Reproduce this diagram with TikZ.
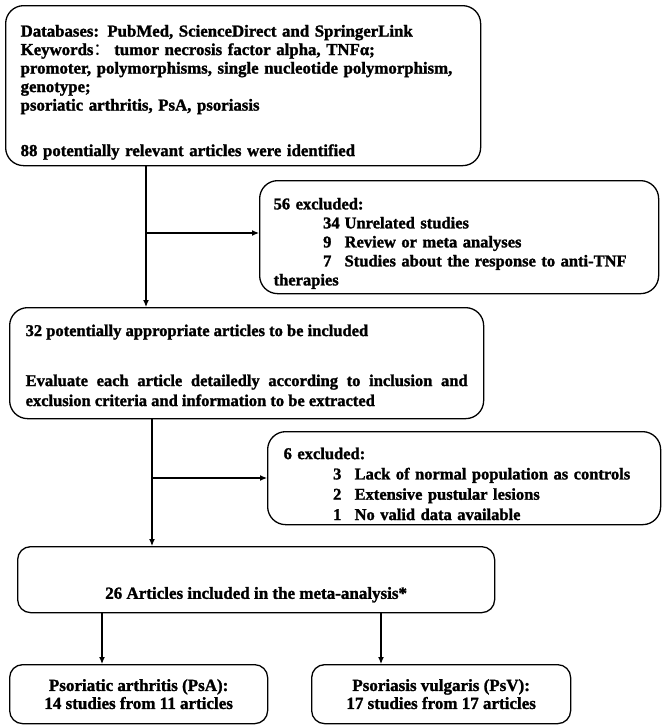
\documentclass[tikz,border=0pt]{standalone}
\usepackage{fontspec}
\setmainfont{Liberation Serif}[BoldFeatures={FakeBold=1.5}]
\newfontfamily\cjk{Noto Sans CJK SC}
\usetikzlibrary{arrows.meta}

% hanging number of an exclusion reason
\newcommand{\exitem}[2]{\hspace*{3em}\makebox[1.3em][l]{#1}#2}

\tikzset{
  box/.style={draw,line width=1.3pt,rounded corners=18pt,anchor=north west,
              inner xsep=15pt,inner ysep=0pt,font=\bfseries},
  smallbox/.style={box,rounded corners=13pt,align=center,
              font=\bfseries\fontsize{17}{18}\selectfont},
  arr/.style={line width=1.2pt,-{Latex[length=7pt,width=6pt]}},
}

\begin{document}
\begin{tikzpicture}[x=1pt,y=-1pt]
  \useasboundingbox (0,0) rectangle (664,728);

  \node[box,text width=445pt,minimum height=160pt,align=left,
        font=\bfseries\fontsize{16.8}{18.5}\selectfont] (search) at (5,5)
    {\rule{0pt}{25pt}Databases: PubMed, ScienceDirect and SpringerLink\\
     Keywords{\cjk\mdseries ：}\hspace{4pt}tumor necrosis factor alpha, TNFα;\\
     promoter, polymorphisms, single nucleotide polymorphism,\\
     genotype;\\
     psoriatic arthritis, PsA, psoriasis\\[27pt]
     88 potentially relevant articles were identified};

  \node[box,inner xsep=14pt,text width=371pt,minimum height=113pt,align=left,
        font=\bfseries\fontsize{16.5}{19}\selectfont] (excl1) at (259,180)
    {\rule{0pt}{24pt}56 excluded:\\
     \exitem{34}{Unrelated studies}\\
     \exitem{9}{Review or meta analyses}\\
     \exitem{7}{Studies about the response to anti-TNF}\\
     therapies};

  \node[box,inner xsep=16pt,text width=442pt,minimum height=111pt,align=justify,
        font=\bfseries\fontsize{16.5}{20}\selectfont] (screen) at (9,307)
    {\rule{0pt}{16pt}32 potentially appropriate articles to be included\\[30pt]
     Evaluate each article detailedly according to inclusion and\linebreak
     exclusion criteria and information to be extracted};

  \node[box,inner xsep=16pt,text width=361pt,minimum height=93pt,align=left,
        font=\bfseries\fontsize{16.5}{20.3}\selectfont] (excl2) at (267,431)
    {\rule{0pt}{23pt}6 excluded:\\
     \exitem{3}{Lack of normal population as controls}\\
     \exitem{2}{Extensive pustular lesions}\\
     \exitem{1}{No valid data available}};

  \node[smallbox,minimum width=477pt,minimum height=66pt] (incl) at (17,546)
    {\rule{0pt}{42pt}26 Articles included in the meta-analysis*};

  \node[smallbox,minimum width=258pt,minimum height=59pt] (psa) at (9,664)
    {Psoriatic arthritis (PsA):\\ 14 studies from 11 articles};
  \node[smallbox,minimum width=259pt,minimum height=59pt] (psv) at (311,664)
    {Psoriasis vulgaris (PsV):\\ 17 studies from 17 articles};

  % connectors
  \coordinate (j1) at (146,233);
  \coordinate (j2) at (152,478);
  \coordinate (b1) at (102,640);
  \coordinate (b2) at (381,640);

  \draw[arr] (j1 |- search.south) -- (j1 |- screen.north);
  \draw[arr] (j1) -- (j1 -| excl1.west);
  \draw[arr] (j2 |- screen.south) -- (j2 |- incl.north);
  \draw[arr] (j2) -- (j2 -| excl2.west);
  \draw[arr] (b1 |- incl.south) -- (b1 |- psa.north);
  \draw[arr] (b2 |- incl.south) -- (b2 |- psv.north);
\end{tikzpicture}
\end{document}
